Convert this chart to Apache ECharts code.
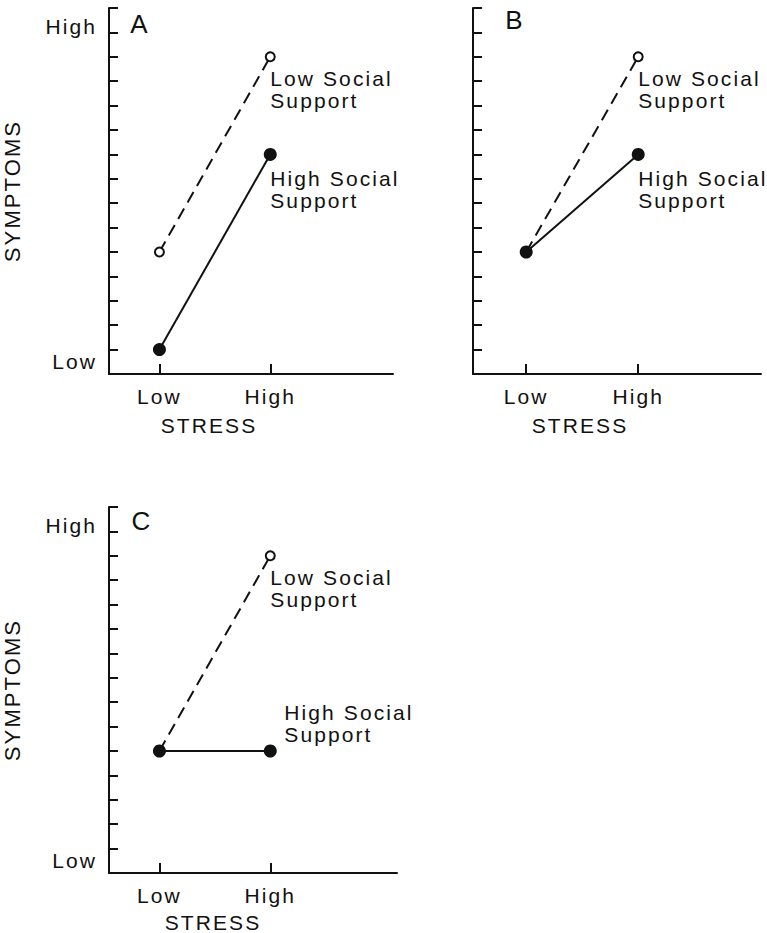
<!DOCTYPE html>
<html>
<head>
<meta charset="utf-8">
<script src="https://cdn.jsdelivr.net/npm/echarts@6/dist/echarts.min.js"></script>
<style>
  html, body { margin: 0; padding: 0; background: #fff; }
  #chart { width: 767px; height: 933px; }
  #chart svg text { letter-spacing: 2.1px; }
</style>
</head>
<body>
<div id="chart"></div>
<script>
// stress levels on x, symptom level on y (0 = low ... 15 = high)
const stressLevels = ['Low', 'High'];
const stressX = [1, 3];
const supportNames = ['Low Social Support', 'High Social Support'];
const supportLabels = ['Low Social\nSupport', 'High Social\nSupport'];

const panelA_low = [5, 13];
const panelA_high = [1, 9];
const panelB_low = [5, 13];
const panelB_high = [5, 9];
const panelC_low = [5, 13];
const panelC_high = [5, 5];

const panelLetters = ['A', 'B', 'C'];

const FONT = '"Liberation Sans", Arial, sans-serif';
const INK = '#111';

const chart = echarts.init(document.getElementById('chart'), null, { renderer: 'svg' });

const grids = [
  { left: 106, top: 8, width: 287, height: 366 },
  { left: 473, top: 8, width: 288, height: 366 },
  { left: 106, top: 507, width: 291, height: 366 }
];
const xMins = [0.09, 0.05, 0.09];

function xAxisFor(i) {
  return {
    type: 'value',
    gridIndex: i,
    min: xMins[i],
    max: xMins[i] + grids[i].width / 56,
    splitLine: { show: false },
    axisLine: { show: true, lineStyle: { color: INK, width: 2 } },
    axisTick: {
      show: true, inside: true, length: 10, customValues: stressX,
      lineStyle: { color: INK, width: 2 }
    },
    axisLabel: {
      customValues: stressX,
      margin: 12,
      color: INK, fontFamily: FONT, fontSize: 21,
      formatter: v => stressLevels[stressX.indexOf(v)] || ''
    }
  };
}

function yAxisFor(i, withLabels) {
  return {
    type: 'value',
    gridIndex: i,
    min: 0,
    max: 15,
    interval: 1,
    name: withLabels ? 'SYMPTOMS' : '',
    nameLocation: 'middle',
    nameGap: 86,
    nameTextStyle: { color: INK, fontFamily: FONT, fontSize: 22 },
    splitLine: { show: false },
    axisLine: { show: true, lineStyle: { color: INK, width: 2 } },
    axisTick: { show: true, inside: true, length: 9, lineStyle: { color: INK, width: 2 } },
    axisLabel: {
      show: withLabels,
      customValues: [0.5, 14.25],
      margin: 12,
      color: INK, fontFamily: FONT, fontSize: 21,
      formatter: v => (v === 0.5 ? 'Low' : v === 14.25 ? 'High' : '')
    }
  };
}

function toPoints(vals) {
  return vals.map((v, k) => [stressX[k], v]);
}

const labelStyle = {
  show: true,
  color: INK, fontFamily: FONT, fontSize: 21, lineHeight: 22,
  align: 'left', verticalAlign: 'top'
};

function lowSeries(i, vals) {
  const pts = toPoints(vals);
  return {
    name: supportNames[0],
    type: 'line',
    xAxisIndex: i, yAxisIndex: i,
    symbol: 'emptyCircle',
    symbolSize: 9,
    itemStyle: { color: INK, borderWidth: 2 },
    lineStyle: { color: INK, width: 2, type: [12, 7] },
    label: { show: false },
    data: [
      { value: pts[0] },
      { value: pts[1], label: Object.assign({}, labelStyle, { position: [5.5, 16.5], formatter: supportLabels[0] }) }
    ],
    z: 2
  };
}

function highSeries(i, vals, labelPos) {
  const pts = toPoints(vals);
  return {
    name: supportNames[1],
    type: 'line',
    xAxisIndex: i, yAxisIndex: i,
    symbol: 'circle',
    symbolSize: 13,
    itemStyle: { color: INK },
    lineStyle: { color: INK, width: 2 },
    label: { show: false },
    data: [
      { value: pts[0] },
      { value: pts[1], label: Object.assign({}, labelStyle, { position: labelPos, formatter: supportLabels[1] }) }
    ],
    z: 3
  };
}

function text(x, y, str, size) {
  return {
    type: 'text', x: x, y: y,
    style: { text: str, fill: INK, font: size + 'px ' + FONT, align: 'center', verticalAlign: 'middle' }
  };
}

chart.setOption({
  backgroundColor: '#fff',
  animation: false,
  grid: grids,
  xAxis: [xAxisFor(0), xAxisFor(1), xAxisFor(2)],
  yAxis: [yAxisFor(0, true), yAxisFor(1, false), yAxisFor(2, true)],
  graphic: [
    text(140, 24, panelLetters[0], 26),
    text(515, 20, panelLetters[1], 26),
    text(142, 521, panelLetters[2], 26),
    text(209, 425, 'STRESS', 21),
    text(580, 425, 'STRESS', 21),
    text(213, 922, 'STRESS', 21)
  ],
  series: [
    lowSeries(0, panelA_low),
    highSeries(0, panelA_high, [6.5, 19.5]),
    lowSeries(1, panelB_low),
    highSeries(1, panelB_high, [6.5, 19.5]),
    lowSeries(2, panelC_low),
    highSeries(2, panelC_high, [20.5, -43.5])
  ]
});
</script>
</body>
</html>
